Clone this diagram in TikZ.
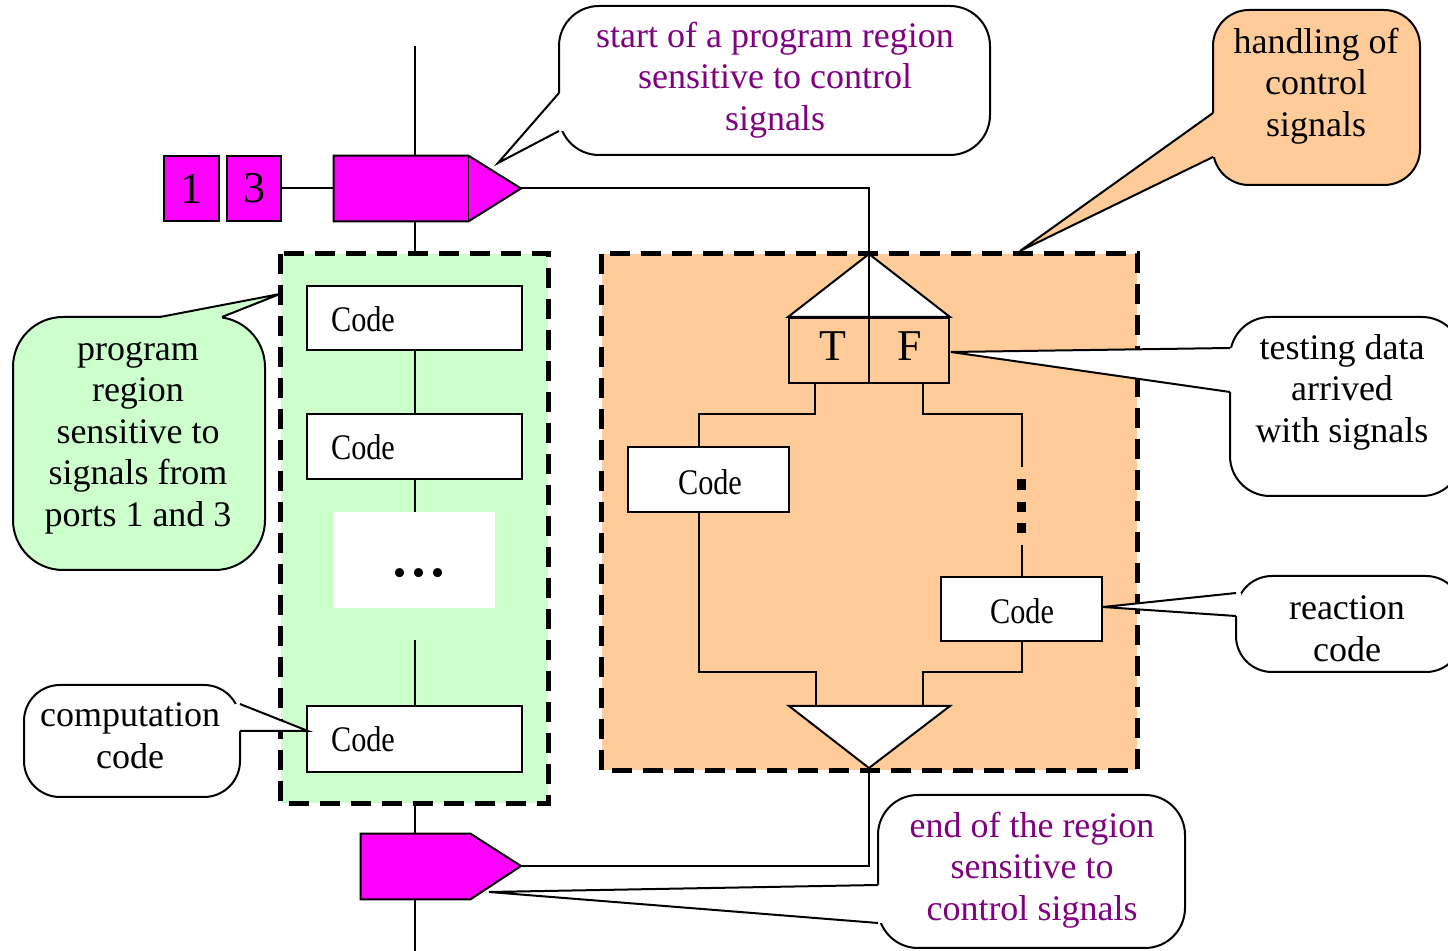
\documentclass[tikz,border=0pt]{standalone}
\usepackage{fontspec}
\setmainfont{Liberation Serif}
\usepackage{graphicx}
\usetikzlibrary{fit,calc}
\definecolor{mag}{HTML}{FF00FF}
\definecolor{lgreen}{HTML}{CCFFCC}
\definecolor{lorange}{HTML}{FFCC99}
\definecolor{purp}{HTML}{800080}
% #1 fill, #2 corner, #3 corner, #4 radius, #5 join1, #6 apex, #7 join2, #8 inward shift
\newcommand{\mycallout}[8]{%
  \fill[#1, rounded corners=#4] #2 rectangle #3;
  \draw[ln, rounded corners=#4] #2 rectangle #3;
  \fill[#1] #5 -- #6 -- #7 -- ($#7+#8$) -- ($#5+#8$) -- cycle;
  \draw[ln, line join=miter] #5 -- #6 -- #7;
}
\begin{document}
\begin{tikzpicture}[x=0.5pt,y=-0.5pt,
  ln/.style={line width=1pt},
  region/.style={line width=2.5pt, dash pattern=on 10pt off 5.5pt},
  box/.style={draw, line width=1pt, fill=white, inner sep=0pt},
  frame/.style={draw, line width=1pt, inner sep=0pt},
  magbox/.style={draw, line width=1pt, fill=mag, inner sep=0pt},
  txt/.style={font=\fontsize{18}{20.75}\selectfont, align=center, inner sep=0pt},
  big/.style={font=\fontsize{22}{24}\selectfont, inner sep=0pt},
  codetxt/.style={font=\fontsize{18}{20}\selectfont, inner sep=0pt},
]
\useasboundingbox (0,0) rectangle (1448,951);
\clip (0,0) rectangle (1448,951);

% regions
\node[fill=lgreen, inner sep=0pt, fit={(281,254)(548,803)}] (green) {};
\draw[region] (green.north west) rectangle (green.south east);
\node[fill=lorange, inner sep=0pt, fit={(602,254)(1137,770)}] (orange) {};
\draw[region] (orange.north west) rectangle (orange.south east);

% ports and start marker
\node[magbox, fit={(164,156)(219,221)}] (p1) {};
\node[big] (p1t) at (p1.center) {1};
\node[magbox, fit={(227,156)(281,221)}] (p3) {};
\node[big] (p3t) at (p3.center) {3};
\node[inner sep=0pt, fit={(334,156)(468,221)}] (start) {};
\coordinate (stip) at (521,188.5);
\draw[ln, fill=mag] (start.north west) -- (start.north east) -- (stip) -- (start.south east) -- (start.south west) -- cycle;
\draw[line width=0.5pt] (start.north east) -- (start.south east);
\draw[ln] (p3.east) -- (start.west);

% main vertical line
\coordinate (mtop) at (415,46);
\coordinate (mbot) at (415,960);
\draw[ln] (mtop) -- (mtop |- start.north);
\draw[ln] (mtop |- start.south) -- (mtop |- green.north);

% left column
\node[box, fit={(307,286)(522,350)}] (c1) {};
\node[codetxt] (c1t) at (363,319) {\scalebox{0.84}[1]{Code}};
\node[box, fit={(307,414)(522,479)}] (c2) {};
\node[codetxt] (c2t) at (363,447) {\scalebox{0.84}[1]{Code}};
\node[fill=white, inner sep=0pt, fit={(334,512)(495,608)}] (dots) {};
\node[anchor=base, font=\fontsize{38}{40}\selectfont, inner sep=0pt] (ell) at (419,577) {...};
\node[box, fit={(307,706)(522,772)}] (c3) {};
\node[codetxt] (c3t) at (363,739) {\scalebox{0.84}[1]{Code}};
\draw[ln] (c1.south) -- (c2.north);
\draw[ln] (c2.south) -- (dots.north);
\draw[ln] ($(dots.south)+(0,32)$) -- (c3.north);

% end marker
\node[inner sep=0pt, fit={(361,834)(470,899)}] (endp) {};
\coordinate (etip) at (521,866);
\draw[ln, fill=mag] (endp.north west) -- (endp.north east) -- (etip) -- (endp.south east) -- (endp.south west) -- cycle;
\draw[ln] (mtop |- green.south) -- (mtop |- endp.north);
\draw[ln] (mtop |- endp.south) -- (mbot);

% control handling
\node[frame, fit={(789,318)(949,383)}] (tf) {};
\coordinate (tapex) at (869,254);
\draw[ln, fill=white] (tapex) -- (tf.north east) -- (tf.north west) -- cycle;
\draw[ln] (tapex) -- (tapex |- tf.south);
\node[big] (T) at (833,346) {T};
\node[big] (F) at (910,346) {F};
\draw[ln] (stip) -| (tapex);

\node[box, fit={(628,447)(789,512)}] (lc) {};
\node[codetxt] (lct) at (710,482) {\scalebox{0.84}[1]{Code}};
\node[box, fit={(941,577)(1102,641)}] (rc) {};
\node[codetxt] (rct) at (1022,611) {\scalebox{0.84}[1]{Code}};

\coordinate (bapex) at (869,768);
\coordinate (bl) at (789,706);
\coordinate (br) at (950,706);
\draw[ln, fill=white] (bl) -- (br) -- (bapex) -- cycle;

\draw[ln] ($(tf.south west)+(27,0)$) -- ++(0,30) -| ($(lc.north west)+(72,0)$);
\draw[ln] ($(lc.south west)+(72,0)$) |- ($(bl)+(27,-34)$) -- ($(bl)+(27,0)$);
\coordinate (rd1) at (1021.5,467);
\coordinate (rd2) at (1021.5,545);
\draw[ln] ($(tf.south east)+(-27,0)$) -- ++(0,30) -| (rd1);
\fill (1017,479) rectangle (1026,490);
\fill (1017,502) rectangle (1026,512);
\fill (1017,523) rectangle (1026,533);
\draw[ln] (rd2) -- (rc.north);
\draw[ln] (rc.south) |- ($(br)+(-27,-34)$) -- ($(br)+(-27,0)$);
\draw[ln] (bapex) |- (etip);

% callouts
\mycallout{white}{(559,6)}{(990,155)}{20pt}{(559,93)}{(498,163)}{(559,131)}{(5,0)}
\node[txt, text=purp] (cstart) at (775,80) {start of a program region\\sensitive to control\\signals};

\mycallout{lorange}{(1213,10)}{(1420,185)}{18pt}{(1213,113)}{(1020,251)}{(1213,157)}{(5,0)}
\node[txt] (chand) at (1316,86) {handling of\\control\\signals};

\mycallout{lgreen}{(13,317)}{(265,570)}{25pt}{(160,317)}{(280,294)}{(222,317)}{(0,5)}
\node[txt] (cprog) at (138,438) {program\\region\\sensitive to\\signals from\\ports 1 and 3};

\mycallout{white}{(1230,317)}{(1462,496)}{20pt}{(1230,348)}{(951,352)}{(1230,392)}{(5,0)}
\node[txt] (ctest) at (1342,392) {testing data\\arrived\\with signals};

\mycallout{white}{(1236,576)}{(1462,672)}{18pt}{(1236,593)}{(1103,607)}{(1236,616)}{(5,0)}
\node[txt] (creact) at (1347,629) {reaction\\code};

\mycallout{white}{(24,685)}{(240,797)}{18pt}{(240,704)}{(308,731)}{(240,731)}{(-5,0)}
\node[txt] (ccomp) at (130,736) {computation\\code};

\mycallout{white}{(878,795)}{(1185,948)}{20pt}{(878,885)}{(489,892)}{(878,923)}{(5,0)}
\node[txt, text=purp] (cend) at (1032,870) {end of the region\\sensitive to\\control signals};
\end{tikzpicture}
\end{document}
